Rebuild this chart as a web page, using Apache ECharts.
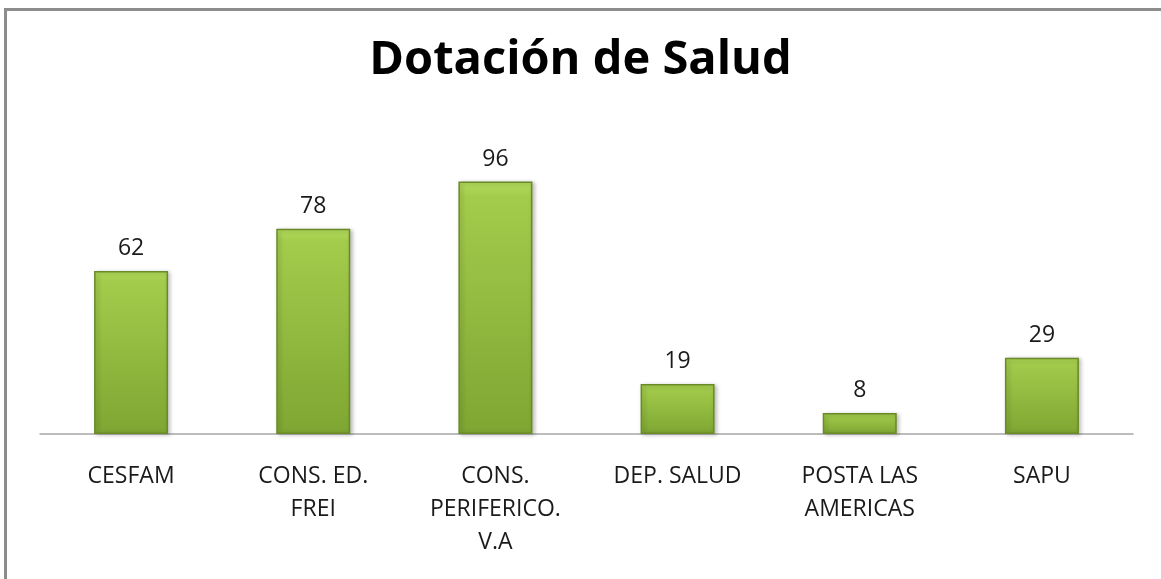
<!DOCTYPE html>
<html lang="es">
  <head>
    <meta charset="UTF-8" />
    <title>Dotación de Salud</title>
    <script src="https://cdn.jsdelivr.net/npm/echarts@6/dist/echarts.min.js"></script>
    <style>
      html, body { margin: 0; padding: 0; background: #fff; overflow: hidden; }
      #frame {
        position: absolute; left: 4px; top: 8px; width: 1200px; height: 620px;
        border-left: 3px solid #8c8c8c; border-top: 3px solid #8c8c8c;
      }
      #chart { position: absolute; left: 0; top: 0; width: 1161px; height: 579px; }
    </style>
  </head>
  <body>
    <div id="frame"></div>
    <div id="chart"></div>
    <script>
      // datos del gráfico
      const categories = [
        "CESFAM",
        "CONS. ED.\nFREI",
        "CONS.\nPERIFERICO.\nV.A",
        "DEP. SALUD",
        "POSTA LAS\nAMERICAS",
        "SAPU"
      ];
      const values = [62, 78, 96, 19, 8, 29];

      const chart = echarts.init(document.getElementById("chart"));
      const option = {
        backgroundColor: "transparent",
        animation: false,
        title: {
          text: "Dotación de Salud",
          left: "center",
          top: 32,
          textStyle: {
            fontFamily: "Open Sans",
            fontWeight: "bold",
            fontSize: 47,
            color: "#000"
          }
        },
        grid: { left: 40, right: 28, top: 171, bottom: 145 },
        xAxis: {
          type: "category",
          data: categories,
          axisLine: { lineStyle: { color: "#a6a6a6", width: 1.5 } },
          axisTick: { show: false },
          axisLabel: {
            fontFamily: "Open Sans",
            fontSize: 23,
            color: "#1a1a1a",
            margin: 26,
            lineHeight: 33,
            interval: 0
          }
        },
        yAxis: {
          type: "value",
          min: 0,
          max: 100,
          show: false,
          splitLine: { show: false }
        },
        series: [
          {
            type: "bar",
            data: values,
            barWidth: 74,
            itemStyle: {
              color: new echarts.graphic.LinearGradient(0, 0, 0, 1, [
                { offset: 0, color: "#b4dc5c" },
                { offset: 0.06, color: "#a3cc4c" },
                { offset: 1, color: "#7ea632" }
              ]),
              borderColor: "#6a8a27",
              borderWidth: 1.5,
              shadowColor: "rgba(0,0,0,0.25)",
              shadowBlur: 4,
              shadowOffsetX: 2,
              shadowOffsetY: 1
            },
            label: {
              show: true,
              position: "top",
              distance: 11,
              fontFamily: "Open Sans",
              fontSize: 23,
              color: "#1a1a1a"
            }
          }
        ]
      };
      chart.setOption(option);
    </script>
  </body>
</html>
